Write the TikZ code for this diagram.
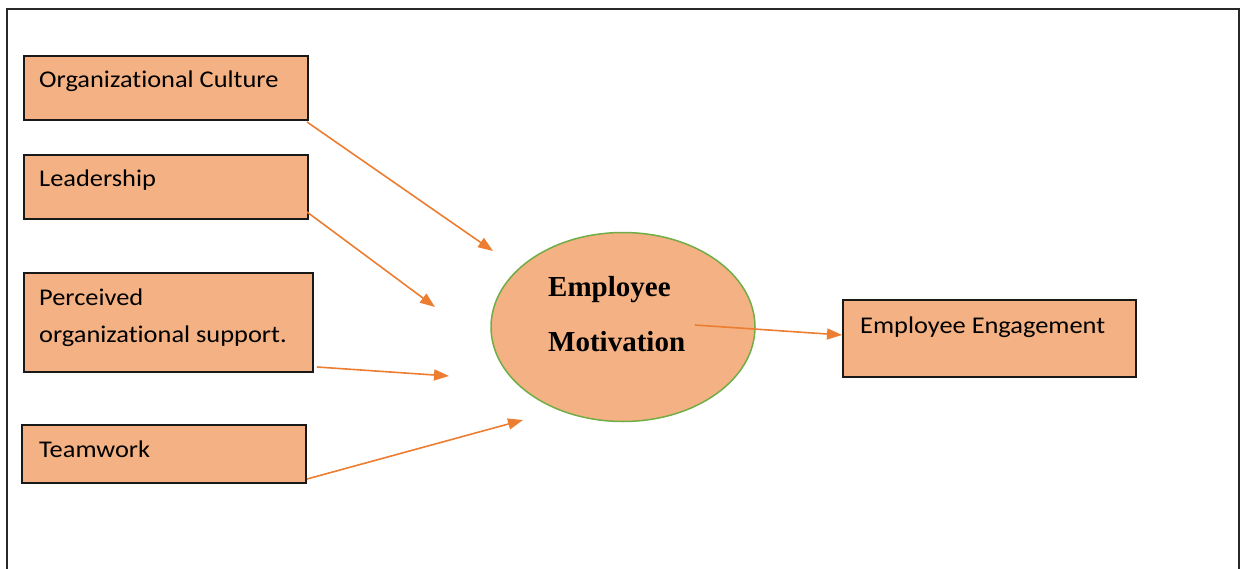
\documentclass[tikz,border=0pt]{standalone}
\usepackage{fontspec}
\setmainfont{Carlito}[Ligatures={NoCommon}, FakeStretch=1.1]
\newfontfamily\headfont{Liberation Serif}
\usetikzlibrary{arrows.meta,shapes.geometric}
\definecolor{boxfill}{RGB}{244,177,131}
\definecolor{arrorange}{RGB}{237,125,49}
\definecolor{rimgreen}{RGB}{112,173,71}
\definecolor{framegray}{RGB}{40,40,40}
\tikzset{
  factorbox/.style={draw=black!90, line width=2pt, fill=boxfill, rectangle, inner sep=0pt},
  boxtext/.style={anchor=base west, inner sep=0pt, font=\fontsize{24}{28}\selectfont},
  flow/.style={draw=arrorange, line width=1.6pt, -{Triangle[length=15pt,width=11pt]}},
}
\begin{document}
\begin{tikzpicture}[x=1pt,y=-1pt]
\useasboundingbox (0,0) rectangle (1241,569);
% outer frame, open at the bottom edge
\draw[framegray, line width=2pt] (7,575) -- (7,9) -- (1239,9) -- (1239,575);

% factor boxes
\node[factorbox, anchor=north west, minimum width=284pt, minimum height=64pt] (culture) at (23,55) {};
\node[boxtext] (culturet) at (39,88) {Organizational Culture};
\node[factorbox, anchor=north west, minimum width=284pt, minimum height=64pt] (lead) at (23,154) {};
\node[boxtext] (leadt) at (39,187) {Leadership};
\node[factorbox, anchor=north west, minimum width=289pt, minimum height=99pt] (pos) at (23,272) {};
\node[boxtext] (post1) at (39,305) {Perceived};
\node[boxtext] (post2) at (39,342) {organizational support.};
\node[factorbox, anchor=north west, minimum width=284pt, minimum height=58pt] (team) at (21,424) {};
\node[boxtext] (teamt) at (39,457) {Teamwork};

% central construct
\node[ellipse, draw=rimgreen, line width=1.5pt, fill=boxfill, minimum width=264pt, minimum height=189pt, inner sep=0pt] (motiv) at (623,327) {};
\node[anchor=base west, inner sep=0pt, font=\headfont\bfseries\fontsize{29}{34}\selectfont] (motivt1) at (548,296) {Employee};
\node[anchor=base west, inner sep=0pt, font=\headfont\bfseries\fontsize{29}{34}\selectfont] (motivt2) at (548,351) {Motivation};

% outcome box
\node[factorbox, anchor=north west, minimum width=293pt, minimum height=77pt] (engage) at (842,299) {};
\node[boxtext] (engaget) at (860,333) {Employee Engagement};

% free ends of the incoming arrows
\coordinate (s1) at (307,122);
\coordinate (e1) at (493,251);
\coordinate (s2) at (307,212);
\coordinate (e2) at (435,307);
\coordinate (s3) at (317,367);
\coordinate (e3) at (449,376);
\coordinate (s4) at (307,479);
\coordinate (e4) at (523,420);
\coordinate (s5) at (695,325);

\draw[flow] (s1) -- (e1);
\draw[flow] (s2) -- (e2);
\draw[flow] (s3) -- (e3);
\draw[flow] (s4) -- (e4);
\draw[flow] (s5) -- (engage.west |- 0,335);
\end{tikzpicture}
\end{document}
